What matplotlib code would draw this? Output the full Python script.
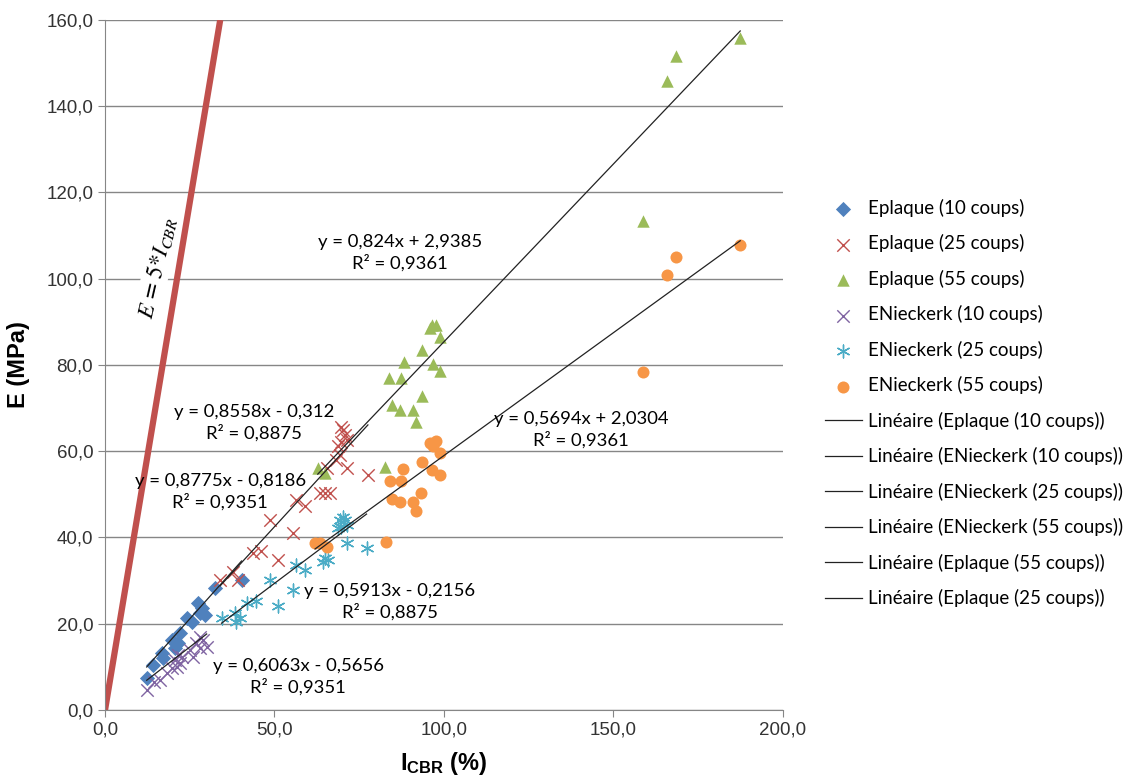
import matplotlib
matplotlib.use('Agg')
import matplotlib.pyplot as plt
from matplotlib.ticker import FuncFormatter
import numpy as np

plt.rcParams['font.family'] = ['Liberation Sans', 'DejaVu Sans']
plt.rcParams['mathtext.fontset'] = 'custom'
plt.rcParams['mathtext.rm'] = 'Liberation Sans'
plt.rcParams['mathtext.bf'] = 'Liberation Sans:bold'

# data
ep10_x = [12.3, 14.2, 16.7, 17.1, 19.7, 20.6, 21.6, 22.1, 24.1, 25.6, 27.5, 28.5, 29.5, 28.0, 32.4, 40.3]
ep10_y = [7.4, 10.4, 13.2, 12.0, 16.2, 14.4, 15.5, 17.8, 21.3, 20.5, 24.8, 23.6, 22.0, 22.5, 28.3, 30.2]

ep25_x = [34.0, 37.8, 39.2, 43.7, 46.0, 48.7, 51.0, 55.5, 56.5, 59.0, 63.4, 65.0, 66.5, 65.4,
          68.3, 69.3, 68.7, 69.8, 70.8, 71.3, 70.2, 69.6, 71.3, 77.6]
ep25_y = [30.2, 32.0, 30.2, 36.4, 36.8, 44.0, 34.8, 41.0, 48.7, 47.2, 50.3, 50.3, 50.3, 56.1,
          58.0, 59.2, 61.1, 62.2, 63.8, 62.6, 65.0, 65.7, 56.1, 54.5]

ep55_x = [62.8, 64.9, 82.6, 83.8, 84.6, 87.0, 87.3, 88.2, 90.9, 91.8, 93.7, 93.7, 95.9, 96.4,
          96.7, 97.8, 98.8, 98.8, 158.8, 165.9, 168.6, 187.5]
ep55_y = [56.1, 55.0, 56.4, 77.0, 70.8, 69.6, 77.0, 80.8, 69.6, 66.7, 72.9, 83.5, 88.6, 89.3,
          80.3, 89.3, 86.5, 78.5, 113.3, 145.9, 151.7, 155.8]

en10_x = [12.3, 14.5, 16.2, 18.2, 19.7, 20.6, 21.1, 21.6, 22.1, 22.6, 25.1, 26.0, 27.0, 28.0,
          28.0, 29.0, 30.0]
en10_y = [4.6, 6.5, 7.0, 8.5, 9.7, 11.6, 10.0, 12.8, 10.8, 12.4, 13.9, 12.4, 15.5, 17.0,
          14.3, 16.2, 14.7]

en25_x = [34.4, 38.3, 38.8, 39.8, 41.8, 44.7, 48.7, 51.1, 55.5, 56.5, 59.0, 64.3, 64.9, 65.9,
          68.8, 69.3, 69.8, 70.3, 70.8, 71.3, 71.3, 77.2]
en25_y = [21.3, 22.5, 20.5, 21.3, 24.8, 25.3, 30.2, 24.0, 27.8, 33.6, 32.5, 34.4, 35.2, 34.8,
          42.2, 44.1, 42.5, 44.8, 44.1, 42.9, 38.7, 37.5]

en55_x = [62.0, 63.4, 65.4, 82.9, 84.1, 84.6, 87.0, 87.5, 88.0, 90.9, 91.7, 93.4, 93.7, 95.9,
          96.4, 96.8, 97.8, 98.8, 98.8, 158.8, 165.9, 168.6, 187.5]
en55_y = [38.7, 38.7, 37.9, 39.0, 53.0, 49.0, 48.3, 53.0, 55.8, 48.3, 46.2, 50.3, 57.6, 61.9,
          55.7, 61.1, 62.3, 59.6, 54.5, 78.3, 100.9, 105.0, 107.7]

# trendline coefficients (slope, intercept) as printed on the chart
fit_ep10 = (0.8775, -0.8186)
fit_ep25 = (0.8558, -0.312)
fit_ep55 = (0.824, 2.9385)
fit_en10 = (0.6063, -0.5656)
fit_en25 = (0.5913, -0.2156)
fit_en55 = (0.5694, 2.0304)

# E = 5 * I_CBR line, as drawn on the chart
ref_x = [0, 34]
ref_y = [0, 160]

fig = plt.figure(figsize=(11.33, 7.78), dpi=100)
ax = fig.add_axes([0.0927, 0.0874, 0.598, 0.887])

ax.set_xlim(0, 200)
ax.set_ylim(0, 160)
ax.set_yticks(np.arange(0, 161, 20))
ax.set_xticks(np.arange(0, 201, 50))
ax.yaxis.grid(True, color='#868686', lw=1)
ax.set_axisbelow(True)
for s in ['top', 'right']:
    ax.spines[s].set_visible(False)
for s in ['left', 'bottom']:
    ax.spines[s].set_color('#868686')
ax.tick_params(colors='#868686', labelcolor='#333333', labelsize=13.5, length=5)
comma = FuncFormatter(lambda v, p: ('%.1f' % v).replace('.', ','))
ax.xaxis.set_major_formatter(comma)
ax.yaxis.set_major_formatter(comma)

ax.plot(ref_x, ref_y, color='#C0504D', lw=4.5, zorder=2, solid_capstyle='butt')

series = [
    ('Eplaque (10 coups)', ep10_x, ep10_y, dict(marker='D', color='#4F81BD', s=60, lw=0)),
    ('Eplaque (25 coups)', ep25_x, ep25_y, dict(marker='x', color='#C0504D', s=80, lw=1)),
    ('Eplaque (55 coups)', ep55_x, ep55_y, dict(marker='^', color='#9BBB59', s=80, lw=0)),
    ('ENieckerk (10 coups)', en10_x, en10_y, dict(marker='x', color='#8064A2', s=80, lw=1)),
    ('ENieckerk (25 coups)', en25_x, en25_y, dict(marker=(6, 2, 0), color='#4BACC6', s=85, lw=1)),
    ('ENieckerk (55 coups)', en55_x, en55_y, dict(marker='o', color='#F79646', s=75, lw=0)),
]
handles = []
for name, xs, ys, kw in series:
    h = ax.scatter(xs, ys, label=name, zorder=3, **kw)
    handles.append(h)

fits = [
    ('Eplaque (10 coups)', ep10_x, fit_ep10),
    ('ENieckerk (10 coups)', en10_x, fit_en10),
    ('ENieckerk (25 coups)', en25_x, fit_en25),
    ('ENieckerk (55 coups)', en55_x, fit_en55),
    ('Eplaque (55 coups)', ep55_x, fit_ep55),
    ('Eplaque (25 coups)', ep25_x, fit_ep25),
]
for name, xs, (a, b) in fits:
    xx = np.array([min(xs), max(xs)])
    h, = ax.plot(xx, a * xx + b, color='#222222', lw=0.9, zorder=4,
                 label='Linéaire (' + name + ')')
    handles.append(h)

# equation labels
def eq(a, b, r2):
    sign = '+' if b >= 0 else '-'
    s1 = ('y = %sx %s %s' % (repr(a), sign, repr(abs(b)))).replace('.', ',')
    return s1 + '\n' + ('R² = %s' % r2).replace('.', ',')

labels = [
    (fit_ep55, '0.9361', 87, 106),
    (fit_en55, '0.9361', 140.5, 65),
    (fit_ep25, '0.8875', 44, 66.5),
    (fit_ep10, '0.9351', 34, 50.5),
    (fit_en25, '0.8875', 84, 25),
    (fit_en10, '0.9351', 57, 7.8),
]
for (a, b), r2, tx, ty in labels:
    ax.text(tx, ty, eq(a, b, r2), ha='center', va='center', fontsize=13.3,
            family=['Lato', 'DejaVu Sans'], linespacing=1.3, zorder=5)

ax.text(15.3, 102.5, r'$E\,=\,5{*}I_{CBR}$', math_fontfamily='stix', fontsize=16.5,
        rotation=77, ha='center', va='center', zorder=5,
        bbox=dict(facecolor='white', edgecolor='none', pad=1))

ax.set_xlabel(r'$\mathbf{I_{CBR}}$ (%)', fontsize=17, fontweight='bold', labelpad=8)
ax.set_ylabel('E (MPa)', fontsize=17, fontweight='bold', labelpad=12)

fig.legend(handles=handles, loc='upper left', bbox_to_anchor=(0.713, 0.766),
           frameon=False, prop={'family': ['Lato', 'DejaVu Sans'], 'size': 13.5},
           handlelength=2.0, handletextpad=0.3, labelspacing=0.93, scatterpoints=1)

fig.savefig('out.png', dpi=100)
